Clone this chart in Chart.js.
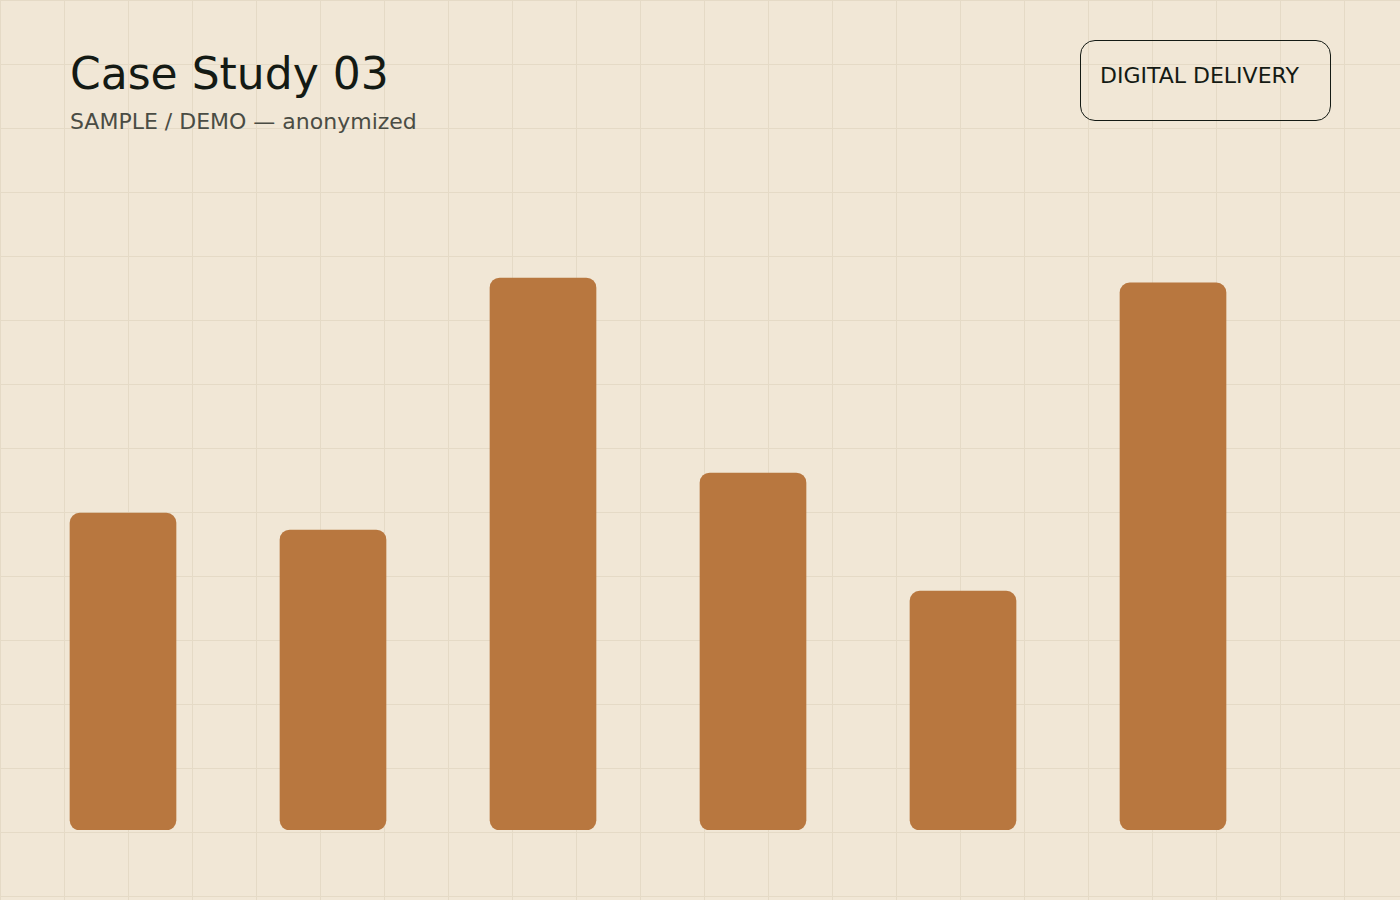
<!DOCTYPE html>
<html>
<head>
<meta charset="utf-8">
<title>Case Study 03</title>
<script src="https://cdn.jsdelivr.net/npm/chart.js@4"></script>
<style>
  html, body {
    margin: 0;
    padding: 0;
    width: 1400px;
    height: 900px;
    overflow: hidden;
  }
  body {
    background-color: #f1e7d6;
    background-image:
      linear-gradient(to right, #e5dac6 1px, transparent 1px),
      linear-gradient(to bottom, #e5dac6 1px, transparent 1px);
    background-size: 64px 64px;
    font-family: "DejaVu Sans", sans-serif;
    position: relative;
  }
  #title {
    position: absolute;
    left: 70px;
    top: 52px;
    margin: 0;
    font-size: 44px;
    font-weight: normal;
    color: #141a14;
    line-height: 1;
  }
  #subtitle {
    position: absolute;
    left: 70px;
    top: 111px;
    margin: 0;
    font-size: 22px;
    color: #4a4c44;
    line-height: 1;
  }
  #badge {
    position: absolute;
    left: 1080px;
    top: 40px;
    width: 251px;
    height: 81px;
    box-sizing: border-box;
    border: 1.6px solid #141a14;
    border-radius: 15px;
    padding: 24px 0 0 19px;
    font-size: 22px;
    color: #141a14;
    line-height: 1;
  }
  #chartBox {
    position: absolute;
    left: 0;
    top: 0;
  }
</style>
</head>
<body>
<h1 id="title">Case Study 03</h1>
<div id="subtitle">SAMPLE / DEMO — anonymized</div>
<div id="badge">DIGITAL DELIVERY</div>
<canvas id="chartBox" width="1400" height="900"></canvas>

<script>
// values (scale 0..100)
var labels = ['A', 'B', 'C', 'D', 'E', 'F'];
var values = [52.8, 50, 92, 59.5, 39.8, 91.2];

var barColor = '#b8773f';

var ctx = document.getElementById('chartBox').getContext('2d');
var chart = new Chart(ctx, {
  type: 'bar',
  data: {
    labels: labels,
    datasets: [{
      label: 'Case Study 03',
      data: values,
      backgroundColor: barColor,
      borderWidth: 0,
      borderRadius: 10,
      borderSkipped: false,
      barThickness: 106
    }]
  },
  options: {
    responsive: false,
    animation: false,
    layout: {
      padding: { left: 18, right: 122, top: 230, bottom: 70 }
    },
    plugins: {
      legend: { display: false },
      tooltip: { enabled: false }
    },
    scales: {
      x: { display: false, offset: true },
      y: { display: false, min: 0, max: 100 }
    }
  }
});
</script>
</body>
</html>
